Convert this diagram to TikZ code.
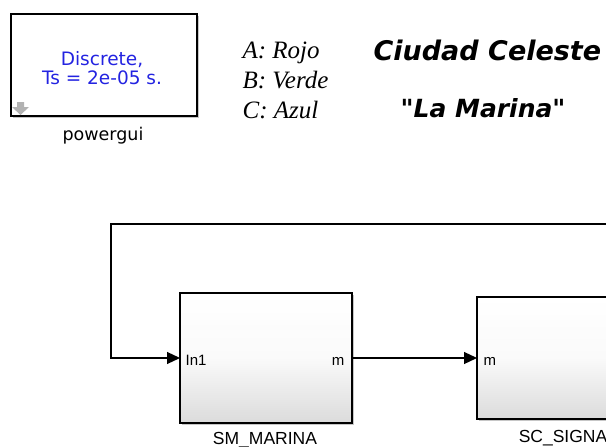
\documentclass[tikz,border=0pt]{standalone}
\usepackage{fontspec}
\setmainfont{Liberation Sans}
\newfontfamily\guifont{DejaVu Sans}
\newfontfamily\legendfont{Liberation Serif}
\usetikzlibrary{arrows.meta, positioning, shadows}

\definecolor{guiblue}{RGB}{35, 35, 225}

\tikzset{
	block/.style = {draw, line width = 1.2pt, inner sep = 0pt, outer sep = 0pt,
		top color = white, bottom color = black!14, middle color = black!2,
		drop shadow = {shadow xshift = 2pt, shadow yshift = -2pt, opacity = 0.45}},
	port/.style = {inner sep = 0pt, font = \fontsize{15}{17}\selectfont},
	blocklabel/.style = {inner sep = 0pt, font = \fontsize{17.5}{20}\selectfont},
	legend/.style = {inner sep = 0pt, anchor = base west, font = \legendfont\itshape\fontsize{25}{28}\selectfont},
	title/.style = {inner sep = 0pt, anchor = base west, font = \guifont\bfseries\itshape\fontsize{25}{28}\selectfont}
}

\begin{document}
\begin{tikzpicture}[x = 1pt, y = -1pt, > = {Triangle[length = 13pt, width = 12pt]}, line width = 1.2pt]

	\path [use as bounding box, clip] (0, 0) rectangle (606, 447);

	% Powergui

	\node [draw, fill = white, line width = 1.3pt, minimum width = 186pt, minimum height = 102pt,
		inner sep = 0pt, drop shadow = {shadow xshift = 2pt, shadow yshift = -2pt, opacity = 0.45}]
		(gui) at (104, 65) {};
	\node [anchor = base, inner sep = 0pt, text = guiblue, font = \guifont\fontsize{18.5}{20}\selectfont]
		(guitop) at (102, 65) {Discrete,};
	\node [anchor = base, inner sep = 0pt, text = guiblue, font = \guifont\fontsize{18.5}{20}\selectfont]
		(guibot) at (102, 84) {Ts = 2e-05 s.};
	\fill [black!30] (17, 102) -- (24, 102) -- (24, 107) -- (29, 107) -- (20.5, 115) -- (12, 107) -- (17, 107) -- cycle;
	\node [anchor = base, inner sep = 0pt, font = \guifont\fontsize{17.5}{20}\selectfont]
		(guilabel) at (103, 140) {powergui};

	% Colour legend

	\node [legend] (colA) at (242, 58) {A: Rojo};
	\node [legend] (colB) at (242, 88) {B: Verde};
	\node [legend] (colC) at (242, 118) {C: Azul};

	% Title

	\node [title, font = \guifont\bfseries\itshape\fontsize{27}{30}\selectfont] (city) at (373, 60) {Ciudad Celeste};
	\node [title] (place) at (400, 117) {"La Marina"};

	% Blocks

	\node [block, minimum width = 172pt, minimum height = 130pt] (sm) at (266, 358) {};
	\node [block, minimum width = 172pt, minimum height = 122pt] (sc) at (563, 358) {};

	\node [port, anchor = base west] (smin) at (185, 365) {In1};
	\node [port, anchor = base east] (smout) at (345, 365) {m};
	\node [port, anchor = base west] (scin) at (483, 365) {m};

	\node [blocklabel, anchor = base] (smlabel) at (265, 444.5) {SM\_MARINA};
	\node [blocklabel, anchor = base] (sclabel) at (563, 442) {SC\_SIGNA};

	% Signals

	\coordinate (loopend) at (620, 224);
	\draw [->] (loopend) -- (111, 224) |- (sm.west);
	\draw [->] (sm.east) -- (sc.west);

\end{tikzpicture}
\end{document}
